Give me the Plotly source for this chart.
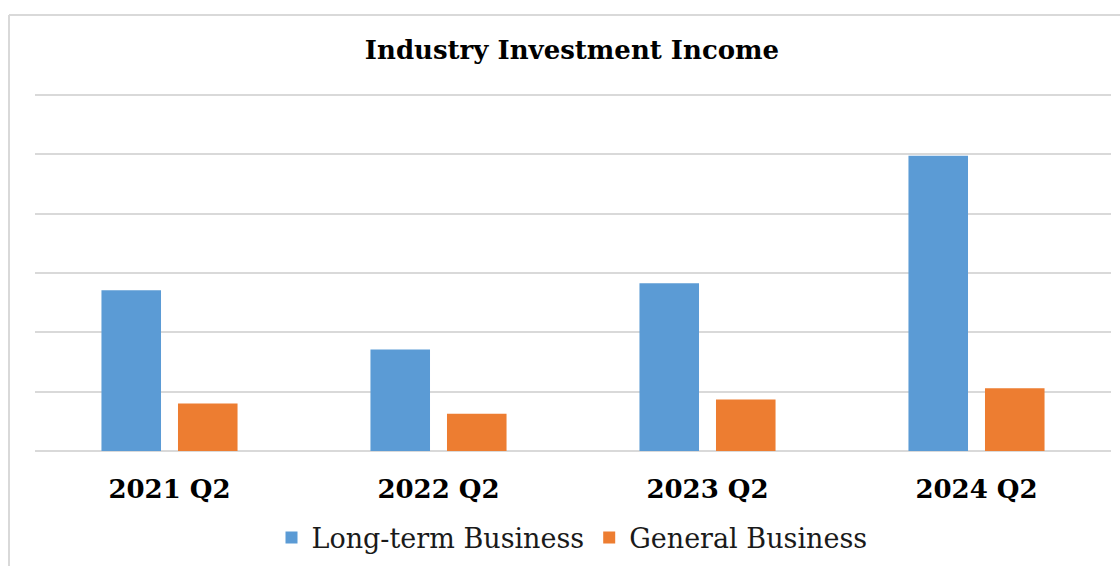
import plotly.graph_objects as go

categories = ["2021 Q2", "2022 Q2", "2023 Q2", "2024 Q2"]
long_term = [2.71, 1.71, 2.83, 4.98]
general = [0.80, 0.63, 0.87, 1.06]
title_text = "Industry Investment Income"

FONT = "DejaVu Serif"

fig = go.Figure()
fig.add_trace(go.Bar(x=categories, y=long_term, name="Long-term Business",
                     marker=dict(color="#5B9BD5", line=dict(width=0))))
fig.add_trace(go.Bar(x=categories, y=general, name="General Business",
                     marker=dict(color="#ED7D31", line=dict(width=0))))

L, R, T, B = 35, 9, 94, 115
W, H = 1120, 566
pw, ph = W - L - R, H - T - B

fig.update_layout(
    width=W, height=H,
    margin=dict(l=L, r=R, t=T, b=B, pad=0, autoexpand=False),
    paper_bgcolor="white", plot_bgcolor="white",
    barmode="group", bargap=0.431, bargroupgap=0.222,
    title=dict(text="<b>" + title_text + "</b>", x=(572 - L) / pw, xref="paper",
               xanchor="center", y=1 - 50 / H, yanchor="middle",
               font=dict(family=FONT, size=26, color="black")),
    legend=dict(orientation="h", x=(572 - L) / pw, xanchor="center", y=(451 - 538) / ph,
                yanchor="middle", font=dict(family=FONT, size=27, color="#1a1a1a"),
                itemwidth=30, traceorder="normal"),
    xaxis=dict(showgrid=False, showline=False, zeroline=False, automargin=False,
               ticks="outside", ticklen=15, tickcolor="rgba(0,0,0,0)",
               tickfont=dict(family=FONT, size=26, color="black"),
               tickvals=categories, ticktext=["<b>" + c + "</b>" for c in categories]),
    yaxis=dict(range=[0, 6.02], dtick=1, showgrid=True, gridcolor="#D9D9D9", gridwidth=1.5,
               zeroline=True, zerolinecolor="#D9D9D9", zerolinewidth=1.5, automargin=False,
               showticklabels=False, showline=False),
    showlegend=True,
)

# chart border (left and top edges visible)
x_left = (9 - L) / pw
y_top = 1 + (T - 15) / ph
fig.add_shape(type="line", xref="paper", yref="paper", x0=x_left, x1=x_left,
              y0=y_top, y1=-B / ph - 0.05, line=dict(color="#D9D9D9", width=2))
fig.add_shape(type="line", xref="paper", yref="paper", x0=x_left, x1=1 + R / pw + 0.05,
              y0=y_top, y1=y_top, line=dict(color="#D9D9D9", width=2))

fig.write_html("out.html", config={"displayModeBar": False},
               post_script="document.body.style.margin='0px';")
